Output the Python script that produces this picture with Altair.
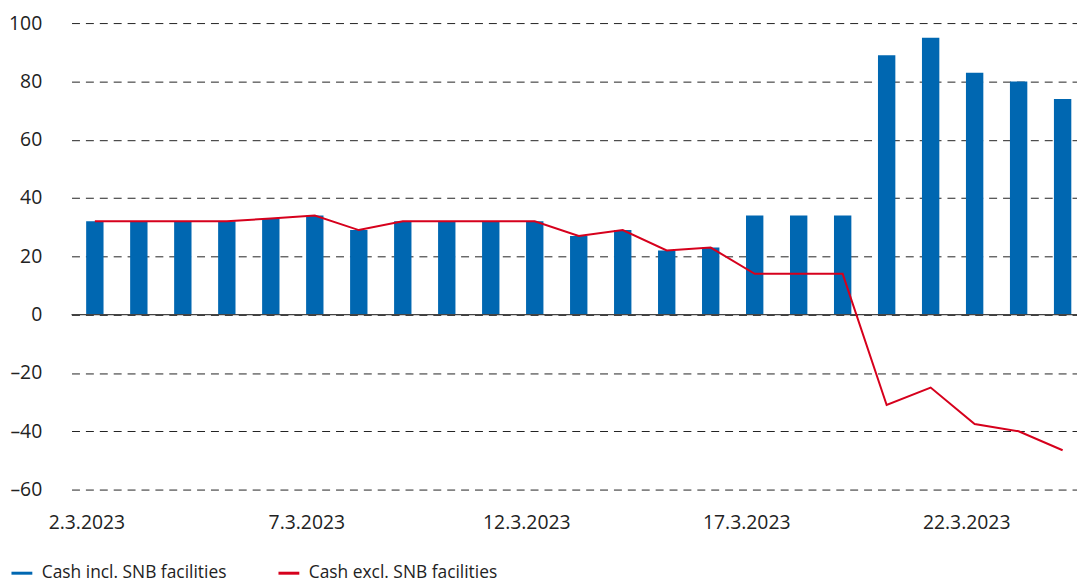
import altair as alt
import pandas as pd

dates = ["2.3.2023", "3.3.2023", "4.3.2023", "5.3.2023", "6.3.2023", "7.3.2023",
         "8.3.2023", "9.3.2023", "10.3.2023", "11.3.2023", "12.3.2023", "13.3.2023",
         "14.3.2023", "15.3.2023", "16.3.2023", "17.3.2023", "18.3.2023", "19.3.2023",
         "20.3.2023", "21.3.2023", "22.3.2023", "23.3.2023", "24.3.2023"]
cash_incl = [32, 32, 32, 32, 33, 34, 29, 32, 32, 32, 32, 27, 29, 22, 23, 34, 34, 34,
             89, 95, 83, 80, 74]
cash_excl = [32, 32, 32, 32, 33, 34, 29, 32, 32, 32, 32, 27, 29, 22, 23, 14, 14, 14,
             -31, -25, -37.5, -40, -46.5]
series_names = ["Cash incl. SNB facilities", "Cash excl. SNB facilities"]
x_tick_labels = ["2.3.2023", "7.3.2023", "12.3.2023", "17.3.2023", "22.3.2023"]
y_ticks = [-60, -40, -20, 0, 20, 40, 60, 80, 100]

BLUE = "#0067b1"
RED = "#d6001c"
FONT = "Open Sans"

bars_df = pd.DataFrame({"date": dates, "value": cash_incl, "series": series_names[0]})
line_df = pd.DataFrame({"date": dates, "value": cash_excl, "series": series_names[1]})
zero_df = pd.DataFrame({"y": [0]})

x_enc = alt.X(
    "date:N",
    sort=dates,
    scale=alt.Scale(type="band", paddingInner=0.605, paddingOuter=0.231, align=0.72),
    axis=alt.Axis(
        values=x_tick_labels, title=None, labelAngle=0, ticks=False, domain=False,
        labelFont=FONT, labelFontSize=19.5, labelColor="#222", labelPadding=24,
        labelOffset=-8, grid=False,
    ),
)
y_enc = alt.Y(
    "value:Q",
    scale=alt.Scale(domain=[-60, 100], nice=False, zero=False),
    axis=alt.Axis(
        values=y_ticks, title=None, ticks=False, domain=False,
        labelFont=FONT, labelFontSize=19.5, labelColor="#222", labelPadding=30,
        labelExpr="datum.value < 0 ? '\u2013' + abs(datum.value) : datum.value",
        grid=True, gridDash=[8, 6], gridColor="#222", gridWidth=1,
    ),
)
color_scale = alt.Scale(domain=series_names, range=[BLUE, RED])
legend = alt.Legend(
    title=None, orient="none", legendX=-62, legendY=542, direction="horizontal",
    columns=2, symbolType="stroke", symbolSize=441, symbolStrokeWidth=3,
    labelFont=FONT, labelFontSize=17.5, labelColor="#222", labelOffset=8,
    labelLimit=400, columnPadding=45,
)

bars = alt.Chart(bars_df).mark_bar(color=BLUE).encode(
    x=x_enc, y=y_enc,
    color=alt.Color("series:N", scale=color_scale, legend=None),
)
line = alt.Chart(line_df).mark_line(strokeWidth=2).encode(
    x=x_enc, y=y_enc,
    color=alt.Color("series:N", scale=color_scale, legend=legend),
)
zero = alt.Chart(zero_df).mark_rule(color="#444", strokeWidth=1.2).encode(
    y=alt.Y("y:Q")
)

chart = alt.layer(bars, zero, line).resolve_legend(color="independent").properties(
    width=1013, height=470,
    autosize=alt.AutoSizeParams(type="none"),
    padding={"left": 64, "top": 13, "right": 0, "bottom": 100},
).configure_view(strokeWidth=0)

chart.save("out.html", embed_options={"renderer": "svg", "actions": False})
